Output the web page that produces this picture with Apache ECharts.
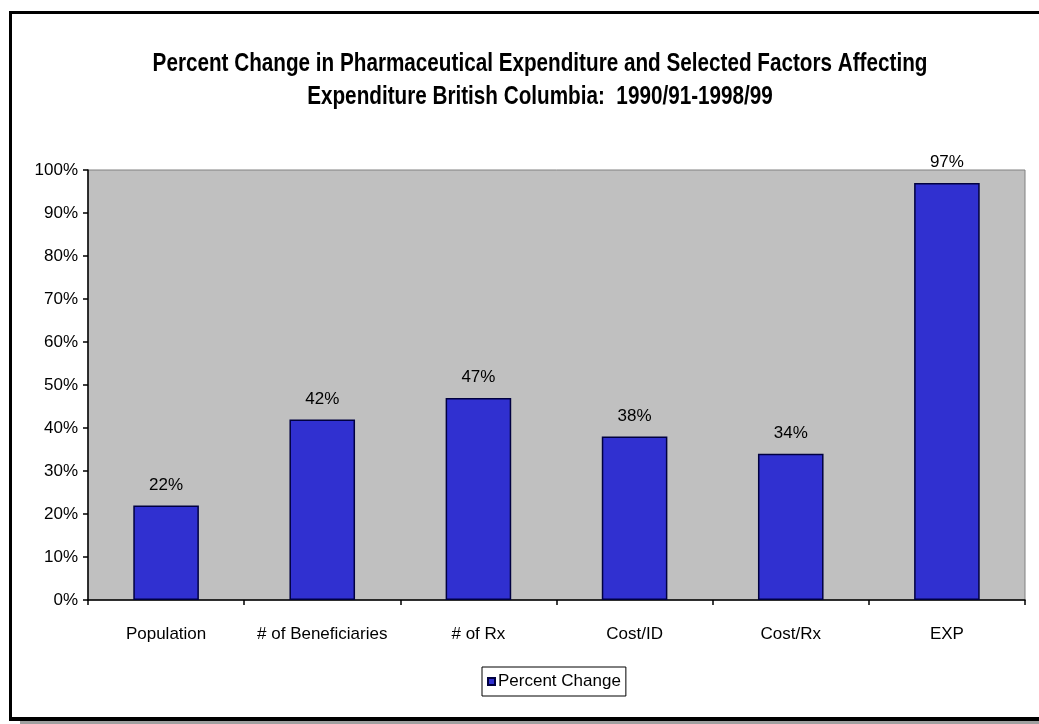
<!DOCTYPE html>
<html>
<head>
<meta charset="utf-8">
<script src="https://cdn.jsdelivr.net/npm/echarts@6/dist/echarts.min.js"></script>
<style>
  html, body { margin: 0; padding: 0; background: #ffffff; }
  #chart { width: 1039px; height: 724px; }
</style>
</head>
<body>
<div id="chart"></div>
<script>
// Categories and percent change values (1990/91 to 1998/99)
const categories = ['Population', '# of Beneficiaries', '# of Rx', 'Cost/ID', 'Cost/Rx', 'EXP'];
const percentChange = [22, 42, 47, 38, 34, 97];
const seriesName = 'Percent Change';
const titleLines = [
  'Percent Change in Pharmaceutical Expenditure and Selected Factors Affecting',
  'Expenditure British Columbia:  1990/91-1998/99'
];

const chart = echarts.init(document.getElementById('chart'), null, { renderer: 'canvas' });
const FONT = 'Liberation Sans, Arial, sans-serif';

chart.setOption({
  backgroundColor: '#ffffff',
  animation: false,
  textStyle: { fontFamily: FONT },
  graphic: [
    // outer frame: left, top and bottom rules, with a grey drop shadow under the bottom
    { type: 'rect', shape: { x: 20, y: 721, width: 1019, height: 3 }, style: { fill: '#a0a0a0' }, silent: true },
    { type: 'rect', shape: { x: 9, y: 11, width: 3, height: 710 }, style: { fill: '#000' }, silent: true },
    { type: 'rect', shape: { x: 9, y: 11, width: 1030, height: 3 }, style: { fill: '#000' }, silent: true },
    { type: 'rect', shape: { x: 9, y: 717, width: 1030, height: 4 }, style: { fill: '#000' }, silent: true },
    // two-line title, drawn tall and narrow
    {
      type: 'text', x: 540, y: 64, scaleY: 1.25,
      style: { text: titleLines[0], fill: '#000', font: 'bold 20.7px ' + FONT, align: 'center', verticalAlign: 'middle' },
      silent: true
    },
    {
      type: 'text', x: 540, y: 97, scaleY: 1.25,
      style: { text: titleLines[1], fill: '#000', font: 'bold 20.7px ' + FONT, align: 'center', verticalAlign: 'middle' },
      silent: true
    }
  ],
  grid: {
    left: 88, right: 14, top: 170, bottom: 124,
    show: true, backgroundColor: '#c0c0c0', borderColor: '#808080', borderWidth: 1
  },
  legend: {
    data: [seriesName],
    left: 482, top: 667,
    itemWidth: 7, itemHeight: 7, itemGap: 4,
    borderColor: '#000', borderWidth: 1, padding: [6, 5, 6, 5],
    icon: 'rect',
    textStyle: { fontSize: 17, color: '#000', fontFamily: FONT, padding: [0, 0, 0, -2] }
  },
  xAxis: {
    type: 'category',
    data: categories,
    axisLine: { lineStyle: { color: '#000', width: 1.5 } },
    axisTick: { show: true, interval: 0, length: 5, lineStyle: { color: '#000', width: 1.5 } },
    axisLabel: { color: '#000', fontSize: 17, margin: 26, interval: 0, fontFamily: FONT },
    splitLine: { show: false }
  },
  yAxis: {
    type: 'value',
    min: 0, max: 100, interval: 10,
    axisLine: { show: true, lineStyle: { color: '#000', width: 1.5 } },
    axisTick: { show: true, length: 5, lineStyle: { color: '#000', width: 1.5 } },
    axisLabel: { color: '#000', fontSize: 17, margin: 10, formatter: '{value}%', fontFamily: FONT },
    splitLine: { show: false }
  },
  series: [{
    name: seriesName,
    type: 'bar',
    data: percentChange,
    barWidth: '42%',
    itemStyle: { color: '#3030d0', borderColor: '#000040', borderWidth: 1.5 },
    label: {
      show: true, position: 'top', distance: 12,
      formatter: '{c}%', color: '#000', fontSize: 17, fontFamily: FONT
    }
  }]
});
</script>
</body>
</html>
